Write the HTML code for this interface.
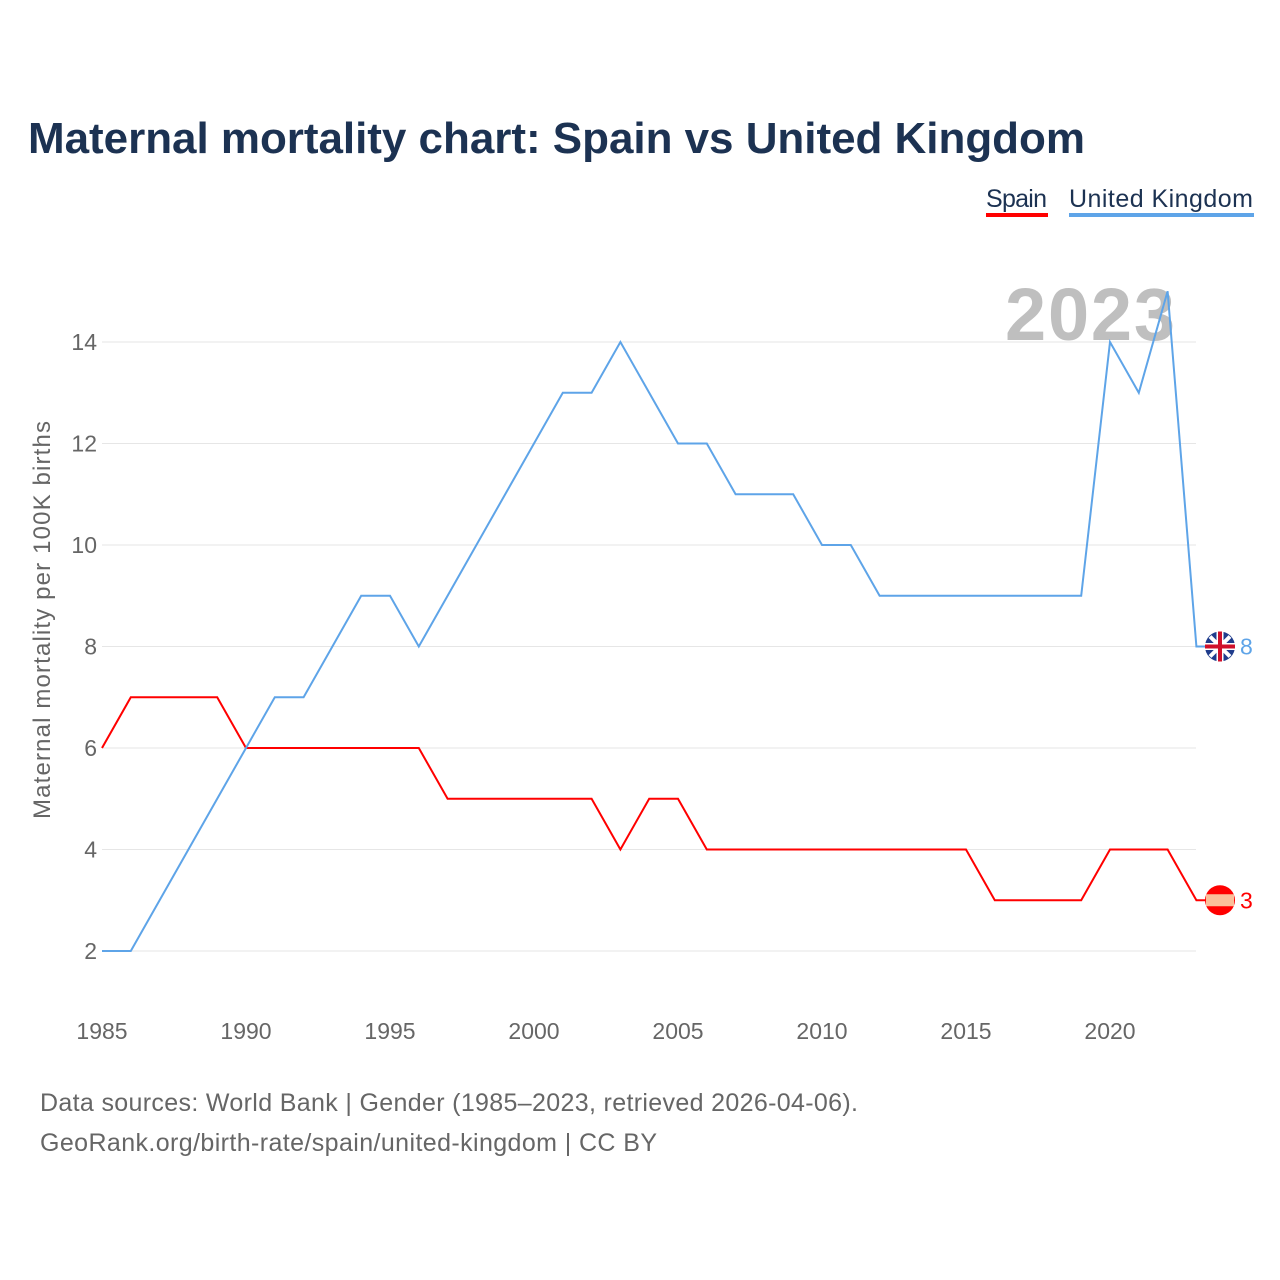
<!DOCTYPE html>
<html><head><meta charset="utf-8"><style>
body{margin:0;background:#fff;font-family:"Liberation Sans",sans-serif;}
svg{display:block}
</style></head><body>
<svg id="chart" width="1280" height="1280" viewBox="0 0 1280 1280">
<text x="28" y="153" font-size="44" font-weight="bold" fill="#1c3252" textLength="1057">Maternal mortality chart: Spain vs United Kingdom</text>
<g>
<g><text x="986" y="207" font-size="25" fill="#1c3252" textLength="61">Spain</text><rect x="986" y="213" width="62" height="4" fill="#ff0000"/></g>
<g><text x="1069" y="207" font-size="25" fill="#1c3252" textLength="184">United Kingdom</text><rect x="1069" y="213" width="185" height="4" fill="#5ea4e8"/></g>
</g>
<text x="1005" y="340" font-size="74" font-weight="bold" fill="#bfbfbf" textLength="170">2023</text>
<g id="grid"></g>
<g id="yticks"></g>
<g id="xticks"></g>
<text transform="translate(50,620) rotate(-90)" text-anchor="middle" font-size="24" fill="#666" textLength="398">Maternal mortality per 100K births</text>
<g id="series"></g>
<text x="40" y="1111" font-size="25" fill="#666" textLength="818">Data sources: World Bank | Gender (1985–2023, retrieved 2026-04-06).</text>
<text x="40" y="1151" font-size="25" fill="#666" textLength="617">GeoRank.org/birth-rate/spain/united-kingdom | CC BY</text>
</svg>
<script>
const years=[];for(let y=1985;y<=2023;y++)years.push(y);
const spain=[6,7,7,7,7,6,6,6,6,6,6,6,5,5,5,5,5,5,4,5,5,4,4,4,4,4,4,4,4,4,4,3,3,3,3,4,4,4,3];
const uk=[2,2,3,4,5,6,7,7,8,9,9,8,9,10,11,12,13,13,14,13,12,12,11,11,11,10,10,9,9,9,9,9,9,9,9,14,13,15,8];
const yTicks=[2,4,6,8,10,12,14];
const xTicks=[1985,1990,1995,2000,2005,2010,2015,2020];
const NS="http://www.w3.org/2000/svg";
const X=y=>102+(y-1985)*28.8;
const Y=v=>951-(v-2)*50.75;
function mk(t,a,p){const e=document.createElementNS(NS,t);for(const k in a)e.setAttribute(k,a[k]);p.appendChild(e);return e;}
const grid=document.getElementById('grid'),yt=document.getElementById('yticks'),xt=document.getElementById('xticks'),ser=document.getElementById('series');
yTicks.forEach(v=>{
 const l=mk('line',{x1:102,x2:1196,y1:Y(v),y2:Y(v),stroke:'#e6e6e6','stroke-width':1},grid);
 
 
 const t=mk('text',{x:97,y:Y(v)+8,'text-anchor':'end','font-size':23,fill:'#666'},yt);t.textContent=v;
 
 
});
xTicks.forEach(v=>{
 const t=mk('text',{x:X(v),y:1039,'text-anchor':'middle','font-size':23,fill:'#666'},xt);t.textContent=v;
 
 
});
function line(data,color,name){
 let d=data.map((v,i)=>(i?'L':'M')+X(years[i])+','+Y(v)).join(' ');
 const last=data[data.length-1];
 d+=' L'+(X(2023)+10)+','+Y(last);
 const p=mk('path',{d:d,fill:'none',stroke:color,'stroke-width':2},ser);
 
 
 const t=mk('text',{x:1240,y:Y(last)+8,'font-size':23,fill:color},ser);t.textContent=last;
 
 
 return Y(last);
}
const ys=line(spain,'#ff0000','spain');
const yu=line(uk,'#5ea4e8','uk');
const fs=mk('g',{},ser);


mk('circle',{cx:1220,cy:ys,r:15,fill:'#f00'},fs);
mk('rect',{x:1206,y:ys-6,width:28,height:12,fill:'#fbbf9a'},fs);
const fu=mk('g',{},ser);


mk('circle',{cx:1220,cy:yu,r:15,fill:'#1f3c8c'},fu);
mk('path',{d:`M1210,${yu-10}L1230,${yu+10}M1230,${yu-10}L1210,${yu+10}`,stroke:'#fff','stroke-width':4},fu);
mk('path',{d:`M1220,${yu-15}V${yu+15}M1205,${yu}H1235`,stroke:'#fff','stroke-width':7},fu);
mk('path',{d:`M1220,${yu-15}V${yu+15}M1205,${yu}H1235`,stroke:'#d0102a','stroke-width':4},fu);
</script>
</body></html>
